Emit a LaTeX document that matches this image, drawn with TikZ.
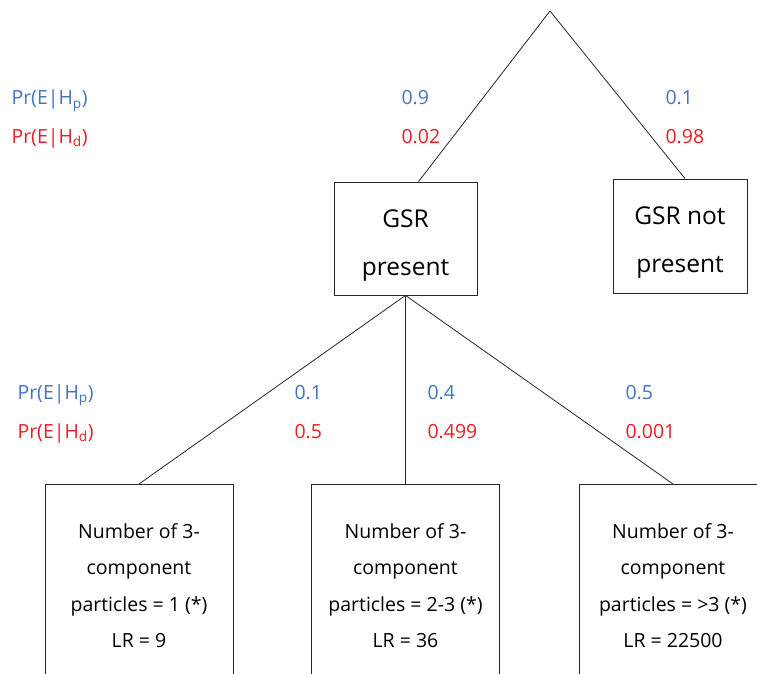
\documentclass[tikz,border=0pt]{standalone}
\usepackage{fontspec}
\setmainfont{Open Sans}
\usetikzlibrary{positioning}
\definecolor{hpblue}{RGB}{68,114,196}
\definecolor{hdred}{RGB}{237,28,36}
\tikzstyle{branch}=[draw=black!85, line width=0.8pt]
\tikzstyle{boxnode}=[rectangle, draw=black!85, line width=0.8pt, align=center, inner sep=0]
\tikzstyle{bigtext}=[align=center, yshift=-7pt, font=\fontsize{24.5}{48}\selectfont]
\tikzstyle{every node}=[font=\fontsize{19.5}{36.5}\selectfont]
\newcommand{\problabel}[4]{\node[anchor=base west, text=#4] (#1) at (#2) {#3};}

\begin{document}
\begin{tikzpicture}[x=1pt, y=-1pt]
\useasboundingbox (0,0) rectangle (757,674);
\clip (0,0) rectangle (757,674);

\coordinate (root) at (550,11);
\node[boxnode, minimum width=143, minimum height=113, label={[bigtext]center:{GSR\\present}}] (gsr) at (405.5,238.5) {};
\node[boxnode, minimum width=134, minimum height=114, label={[bigtext]center:{GSR not\\present}}] (nogsr) at (680,236) {};

\node[boxnode, minimum width=188, minimum height=202, anchor=north] (one) at (139,484) {Number of 3-\\component\\particles = 1 (*)\\LR = 9};
\node[boxnode, minimum width=188, minimum height=202, anchor=north] (two) at (405.5,484) {Number of 3-\\component\\particles = 2-3 (*)\\LR = 36};
\node[boxnode, minimum width=188, minimum height=202, anchor=north] (three) at (673,484) {Number of 3-\\component\\particles = >3 (*)\\LR = 22500};

\draw[branch] (root) -- ([xshift=13pt]gsr.north);
\draw[branch] (root) -- ([xshift=5pt]nogsr.north);
\draw[branch] (gsr.south) -- (one.north);
\draw[branch] (gsr.south) -- (two.north);
\draw[branch] (gsr.south) -- (three.north);

% first level
\problabel{hp1}{8,105}{Pr(E|H\textsubscript{p})}{hpblue}
\problabel{hd1}{8,143}{Pr(E|H\textsubscript{d})}{hdred}
\problabel{hpa}{398,105}{0.9}{hpblue}
\problabel{hda}{398,143}{0.02}{hdred}
\problabel{hpb}{662,105}{0.1}{hpblue}
\problabel{hdb}{662,143}{0.98}{hdred}

% second level
\problabel{hp2}{14,399}{Pr(E|H\textsubscript{p})}{hpblue}
\problabel{hd2}{14,438}{Pr(E|H\textsubscript{d})}{hdred}
\problabel{hpc}{291,399}{0.1}{hpblue}
\problabel{hdc}{291,438}{0.5}{hdred}
\problabel{hpd}{424,399}{0.4}{hpblue}
\problabel{hdd}{424,438}{0.499}{hdred}
\problabel{hpe}{622,399}{0.5}{hpblue}
\problabel{hde}{622,438}{0.001}{hdred}
\end{tikzpicture}
\end{document}
